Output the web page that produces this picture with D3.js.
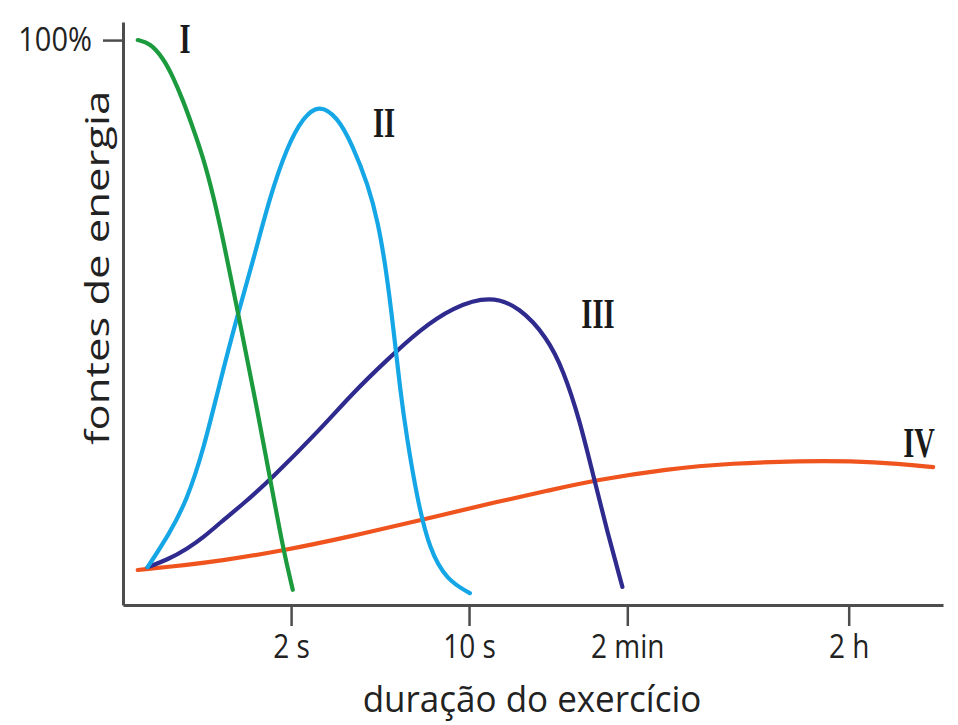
<!DOCTYPE html>
<html>
<head>
<meta charset="utf-8">
<script src="https://cdn.jsdelivr.net/npm/d3@7"></script>
<style>
  html, body { margin: 0; padding: 0; background: #fff; }
  svg { display: block; }
</style>
</head>
<body>
<div id="chart"></div>
<script>
// relative position along the duration axis (0-100) and share of energy (%)
const sourceI = [
  [1.8, 100], [3.3, 99.5], [4.9, 96.8], [6.1, 93.5], [7.3, 89.4], [8.5, 84.6],
  [9.8, 79.1], [11.0, 72.6], [12.3, 64.1], [13.9, 52.6], [15.9, 38.1], [17.9, 22.7],
  [19.5, 10.1], [20.7, 2.7]
];
const sourceII = [
  [3.0, 6.7], [5.7, 12.7], [7.8, 18.6], [9.8, 27.4], [11.8, 39.3], [13.9, 51.0],
  [15.9, 61.1], [17.9, 72.2], [20.0, 81.1], [22.0, 86.4], [23.9, 88.6], [26.1, 86.5],
  [28.0, 81.4], [29.9, 74.3], [31.1, 67.8], [32.1, 59.3], [33.0, 48.7], [33.8, 38.1],
  [34.6, 29.7], [35.9, 18.6], [37.4, 9.7], [39.5, 4.4], [42.3, 2.1]
];
const sourceIII = [
  [3.0, 6.7], [5.4, 8.0], [7.8, 9.9], [10.0, 12.2], [11.8, 14.5], [14.9, 18.2],
  [17.9, 22.1], [24.0, 31.0], [28.0, 37.5], [32.2, 43.4], [36.2, 48.7], [40.2, 52.7],
  [44.8, 54.8], [48.4, 52.7], [51.7, 47.4], [53.7, 41.6], [55.7, 32.7], [57.3, 23.2],
  [59.0, 13.3], [60.9, 3.2]
];
const sourceIV = [
  [1.8, 6.2], [7.8, 7.1], [11.8, 7.8], [19.5, 9.6], [28.0, 12.2], [36.2, 15.0],
  [46.0, 18.4], [51.7, 20.2], [57.6, 22.1], [66.3, 24.1], [74.4, 25.1], [82.6, 25.5],
  [88.7, 25.5], [94.8, 25.0], [98.8, 24.4]
];
const tickPositions = [20.5, 42.2, 61.5, 88.5];
const tickLabels = ["2 s", "10 s", "2 min", "2 h"];
const curveNames = ["I", "II", "III", "IV"];

const width = 958, height = 725;
const svg = d3.select("#chart").append("svg")
  .attr("width", width)
  .attr("height", height);

const x = d3.scaleLinear().domain([0, 100]).range([123, 943]);
const y = d3.scaleLinear().domain([0, 103.2]).range([605, 22]);

const axisColor = "#4d4d4d";
const sans = "'Open Sans', sans-serif";

// x axis
const xAxis = svg.append("g")
  .attr("transform", `translate(0,${y(0)})`)
  .call(d3.axisBottom(x)
    .tickValues(tickPositions)
    .tickFormat((d, i) => tickLabels[i])
    .tickSize(21)
    .tickSizeOuter(0));
xAxis.select(".domain").attr("stroke", axisColor).attr("stroke-width", 3);
xAxis.selectAll(".tick line").attr("stroke", axisColor).attr("stroke-width", 2.5);
// the original lettering is a bit taller than it is wide
xAxis.selectAll(".tick text")
  .attr("y", null)
  .attr("dy", null)
  .attr("transform", "translate(0,53) scale(1,1.15)")
  .attr("fill", "#222")
  .style("font-family", sans)
  .style("font-size", "28px");

// y axis
const yAxis = svg.append("g")
  .attr("transform", `translate(${x(0)},0)`)
  .call(d3.axisLeft(y)
    .tickValues([100])
    .tickFormat(d => d + "%")
    .tickSize(20)
    .tickSizeOuter(0));
yAxis.select(".domain").attr("stroke", axisColor).attr("stroke-width", 3);
yAxis.selectAll(".tick line").attr("stroke", axisColor).attr("stroke-width", 2.5);
yAxis.selectAll(".tick text")
  .attr("x", null)
  .attr("dy", null)
  .attr("transform", "translate(-31,10) scale(1,1.15)")
  .attr("fill", "#222")
  .style("font-family", sans)
  .style("font-size", "29px");

// curves
const line = d3.line()
  .x(d => x(d[0]))
  .y(d => y(d[1]))
  .curve(d3.curveBasis);

const series = [
  { data: sourceIV, color: "#f0541e" },
  { data: sourceIII, color: "#2f2a8e" },
  { data: sourceII, color: "#15a6e6" },
  { data: sourceI, color: "#1b9a3e" }
];

svg.append("g").selectAll("path")
  .data(series)
  .join("path")
  .attr("d", d => line(d.data))
  .attr("fill", "none")
  .attr("stroke", d => d.color)
  .attr("stroke-width", 4.2)
  .attr("stroke-linecap", "round");

// roman numeral labels
const namePos = [[185, 53], [384, 137], [598, 328], [919, 457]];
svg.append("g").selectAll("text")
  .data(curveNames)
  .join("text")
  .attr("transform", (d, i) => `translate(${namePos[i][0]},${namePos[i][1]}) scale(0.68,1)`)
  .attr("text-anchor", "middle")
  .attr("fill", "#1a1a1a")
  .style("font-family", "'Liberation Serif', 'DejaVu Serif', serif")
  .style("font-weight", "bold")
  .style("font-size", "42px")
  .text(d => d);

// axis titles
svg.append("text")
  .attr("transform", "translate(532,712) scale(1,1.06)")
  .attr("text-anchor", "middle")
  .attr("fill", "#222")
  .style("font-family", sans)
  .style("font-size", "35px")
  .text("duração do exercício");

svg.append("text")
  .attr("transform", "translate(109,268) rotate(-90) scale(1.32,1)")
  .attr("text-anchor", "middle")
  .attr("fill", "#222")
  .style("font-family", sans)
  .style("font-size", "33px")
  .text("fontes de energia");
</script>
</body>
</html>
